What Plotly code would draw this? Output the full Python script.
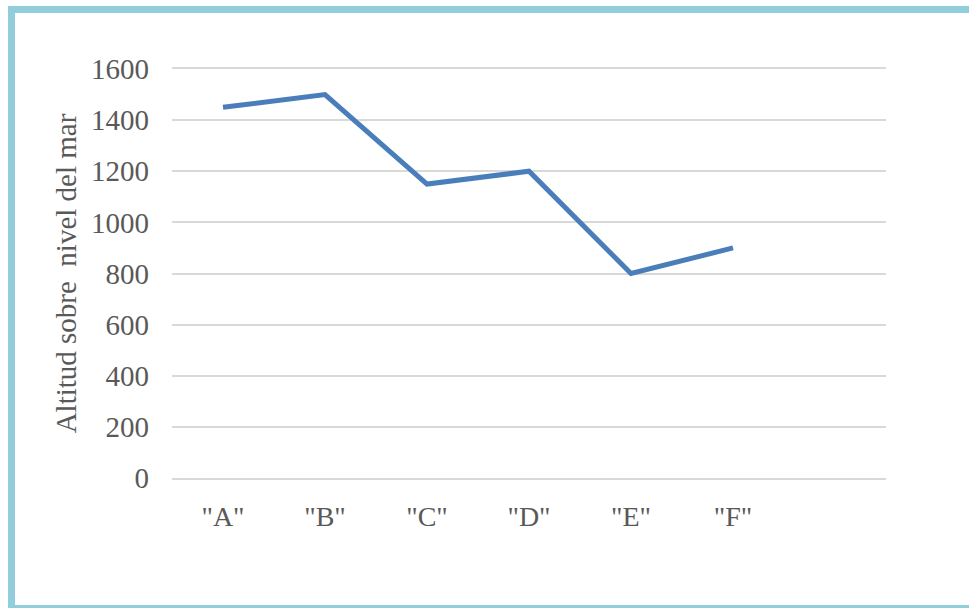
import plotly.graph_objects as go

categories = ['"A"', '"B"', '"C"', '"D"', '"E"', '"F"']
altitudes = [1450, 1500, 1150, 1200, 800, 900]
y_ticks = [0, 200, 400, 600, 800, 1000, 1200, 1400, 1600]
y_title = "Altitud sobre\u00a0 nivel del mar"

W, H = 969, 608
L, R, T, B = 172, 83, 69, 130
pw, ph = W - L - R, H - T - B

def px_x(x):
    return (x - L) / pw

def px_y(y):
    return (H - B - y) / ph

font_color = "#595959"
grid_color = "#D9D9D9"
fam = "Liberation Serif, Times New Roman, serif"

fig = go.Figure()
fig.add_trace(go.Scatter(
    x=categories, y=altitudes, mode="lines",
    line=dict(color="#4A7EBB", width=5),
    hoverinfo="x+y", showlegend=False,
))

fig.update_layout(
    width=W, height=H,
    margin=dict(l=L, r=R, t=T, b=B, pad=0),
    paper_bgcolor="white", plot_bgcolor="white",
    font=dict(family=fam, size=28, color=font_color),
    xaxis=dict(
        type="category", range=[-0.5, 6.5], showgrid=False, zeroline=False,
        showline=True, mirror=True, linecolor=grid_color, linewidth=2,
        ticks="", ticklabelstandoff=12,
        tickfont=dict(size=28, color=font_color), automargin=False,
    ),
    yaxis=dict(
        range=[0, 1600], tickvals=y_ticks, showgrid=True, gridcolor=grid_color,
        gridwidth=2, zeroline=False, showline=False, ticks="",
        ticklabelstandoff=22, tickfont=dict(size=29, color=font_color),
        title=dict(text=y_title, font=dict(size=29, color=font_color), standoff=5),
        automargin=False,
    ),
    shapes=[dict(
        type="rect", xref="paper", yref="paper",
        x0=px_x(11.5), x1=px_x(990), y0=px_y(608.5), y1=px_y(9.5),
        line=dict(color="#92CDDC", width=7), fillcolor="rgba(0,0,0,0)",
        layer="above",
    )],
)

fig.write_html("out.html")
